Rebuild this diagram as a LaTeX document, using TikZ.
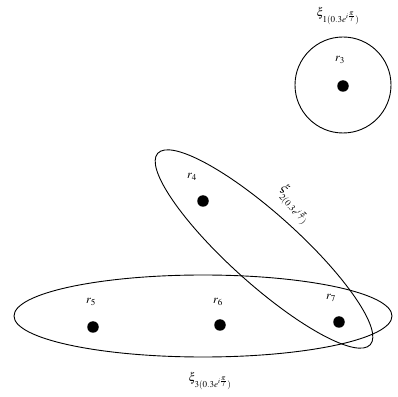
\documentclass[tikz,border=0pt]{standalone}
\usepackage{mathptmx}
\usetikzlibrary{shapes.geometric}
\begin{document}
\begin{tikzpicture}[x=1pt,y=1pt,
  dotnode/.style={circle,fill=black,inner sep=0pt,minimum size=11.5pt},
  lab/.style={inner sep=0pt,font=\large},
  setline/.style={draw=black,line width=0.9pt}]
\useasboundingbox (0,0) rectangle (397,397);
% sets
\draw[setline] (343,312) circle (48);
\draw[setline] (264,148) ellipse [x radius=143, y radius=35, rotate=-42];
\draw[setline] (203,81) ellipse [x radius=189, y radius=41];
% points
\node[dotnode] (p3) at (343,311) {};
\node[dotnode] (p4) at (203,196) {};
\node[dotnode] (p5) at (93,70) {};
\node[dotnode] (p6) at (220,72) {};
\node[dotnode] (p7) at (339,75) {};
\node[lab] (l3) at (340,337) {$r_3$};
\node[lab] (l4) at (192,220) {$r_4$};
\node[lab] (l5) at (91,95) {$r_5$};
\node[lab] (l6) at (218,95) {$r_6$};
\node[lab] (l7) at (331,99) {$r_7$};
% set labels
\node[lab] (x1) at (338,381) {$\xi_{1(0.3e^{i\frac{\pi}{7}})}$};
\node[lab,rotate=-50] (x2) at (294,192) {$\xi_{2(0.3e^{i\frac{\pi}{7}})}$};
\node[lab] (x3) at (210,16) {$\xi_{3(0.3e^{i\frac{\pi}{7}})}$};
\end{tikzpicture}
\end{document}
